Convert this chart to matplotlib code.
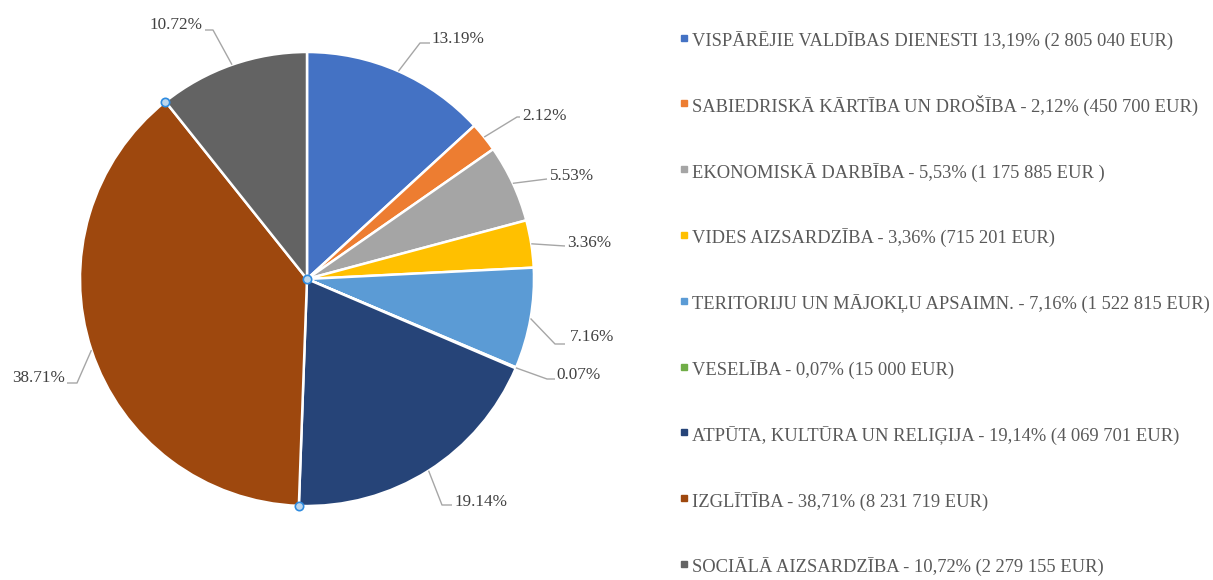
import numpy as np
import matplotlib
matplotlib.use("Agg")
import matplotlib.pyplot as plt

# ---------------- data ----------------
categories = [
    "VISPĀRĒJIE VALDĪBAS DIENESTI",
    "SABIEDRISKĀ KĀRTĪBA UN DROŠĪBA",
    "EKONOMISKĀ DARBĪBA",
    "VIDES AIZSARDZĪBA",
    "TERITORIJU UN MĀJOKĻU APSAIMN.",
    "VESELĪBA",
    "ATPŪTA, KULTŪRA UN RELIĢIJA",
    "IZGLĪTĪBA",
    "SOCIĀLĀ AIZSARDZĪBA",
]
amounts_eur = [2805040, 450700, 1175885, 715201, 1522815, 15000, 4069701, 8231719, 2279155]
percent_labels = ["13.19%", "2.12%", "5.53%", "3.36%", "7.16%", "0.07%", "19.14%", "38.71%", "10.72%"]
legend_labels = [
    "VISPĀRĒJIE VALDĪBAS DIENESTI 13,19% (2 805 040 EUR)",
    "SABIEDRISKĀ KĀRTĪBA UN DROŠĪBA - 2,12% (450 700 EUR)",
    "EKONOMISKĀ DARBĪBA - 5,53% (1 175 885 EUR )",
    "VIDES AIZSARDZĪBA - 3,36% (715 201 EUR)",
    "TERITORIJU UN MĀJOKĻU APSAIMN. - 7,16% (1 522 815 EUR)",
    "VESELĪBA - 0,07% (15 000 EUR)",
    "ATPŪTA, KULTŪRA UN RELIĢIJA - 19,14% (4 069 701 EUR)",
    "IZGLĪTĪBA - 38,71% (8 231 719 EUR)",
    "SOCIĀLĀ AIZSARDZĪBA - 10,72% (2 279 155 EUR)",
]
colors = ["#4472C4", "#ED7D31", "#A5A5A5", "#FFC000", "#5B9BD5",
          "#70AD47", "#264478", "#9E480E", "#636363"]

# ---------------- layout (pixels, y measured from top) ----------------
W, H = 1213, 580
CX, CY, R = 307, 279, 227
# label layout: elbow point, horizontal end x, text x, text baseline y, alignment
label_layout = [
    ((420, 43), 430, 432, 43, "left"),
    ((517, 117), 520, 522, 120, "left"),
    ((547, 179), 547, 550, 180, "left"),
    ((565, 246), 565, 567, 247, "left"),
    ((555, 344), 565, 570, 341, "left"),
    ((547, 379), 555, 556, 379, "left"),
    ((442, 505), 452, 455, 506, "left"),
    ((77, 383), 67, 65, 382, "right"),
    ((213, 30), 205, 203, 29, "right"),
]
LEG_MARK_X, LEG_TEXT_X, LEG_Y0, LEG_DY = 684, 692, 46, 65.8
FONT = "Liberation Serif"
FS = 12.3
LEG_FS = 13.3


def Y(y):
    return H - y


fig = plt.figure(figsize=(W / 100, H / 100), dpi=100)
ax = fig.add_axes([0, 0, 1, 1])

wedges, _ = ax.pie(
    amounts_eur, colors=colors, startangle=90, counterclock=False,
    radius=R, center=(CX, Y(CY)),
    wedgeprops=dict(edgecolor="white", linewidth=1.8),
)
ax.set_xlim(0, W)
ax.set_ylim(0, H)
ax.set_aspect("equal")
ax.axis("off")

# data labels with leader lines
for w, lab, (elbow, endx, tx, ty, ha) in zip(wedges, percent_labels, label_layout):
    mid = np.deg2rad((w.theta1 + w.theta2) / 2)
    ax0 = CX + R * np.cos(mid)
    ay0 = Y(CY) + R * np.sin(mid)
    ax.plot([ax0, elbow[0], endx], [ay0, Y(elbow[1]), Y(elbow[1])],
            color="#A6A6A6", lw=1.0, solid_capstyle="butt", zorder=3)
    ax.text(tx, Y(ty), lab, ha=ha, va="baseline", fontsize=FS,
            family=FONT, color="#404040")

# selection handles on the largest slice
sel = wedges[int(np.argmax(amounts_eur))]
hx = [CX] + [CX + R * np.cos(np.deg2rad(t)) for t in (sel.theta1, sel.theta2)]
hy = [Y(CY)] + [Y(CY) + R * np.sin(np.deg2rad(t)) for t in (sel.theta1, sel.theta2)]
ax.plot(hx, hy, ls="none", marker="o", ms=6, mfc="#BDD7EE", mec="#2E8BE0",
        mew=1.2, zorder=5, clip_on=False)

# legend
for i, (lab, c) in enumerate(zip(legend_labels, colors)):
    yb = LEG_Y0 + i * LEG_DY
    ax.plot([LEG_MARK_X], [Y(yb - 8.5)], ls="none", marker="s", ms=4.3,
            mfc=c, mec=c, clip_on=False)
    ax.text(LEG_TEXT_X, Y(yb), lab, ha="left", va="baseline", fontsize=LEG_FS,
            family=FONT, color="#595959")

fig.savefig("out.png", dpi=100, facecolor="white")
